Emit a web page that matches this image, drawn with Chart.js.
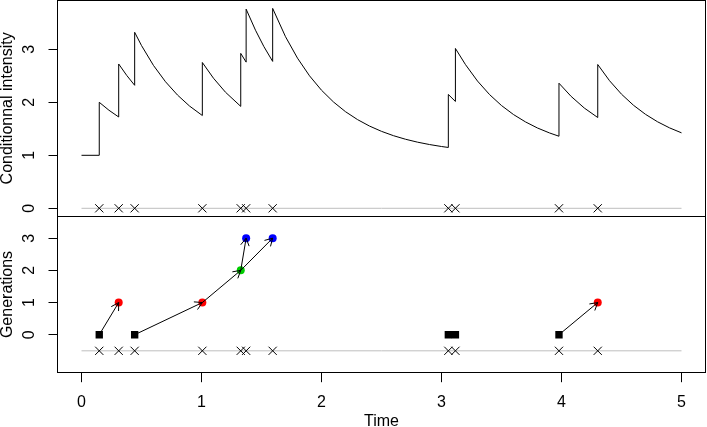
<!DOCTYPE html>
<html>
<head>
<meta charset="UTF-8">
<title>Conditionnal intensity and generations</title>
<script src="https://cdn.jsdelivr.net/npm/chart.js@4.4.0/dist/chart.umd.min.js"></script>
<style>
  body { margin: 0; background: #fff; overflow: hidden; }
  #wrap { position: relative; width: 707px; height: 427px; }
  canvas { position: absolute; left: 0; }
</style>
</head>
<body>
<div id="wrap">
  <canvas id="intensity" width="707" height="217" style="top:0"></canvas>
  <canvas id="generations" width="707" height="211" style="top:216px"></canvas>
</div>
<script>
// event times and their family tree
var eventTimes = [0.148, 0.31, 0.443, 1.007, 1.327, 1.372, 1.593, 3.057, 3.116, 3.979, 4.302];
var generation = [0, 1, 0, 1, 2, 3, 3, 0, 0, 0, 1];
var parentOf = [-1, 0, -1, 2, 3, 4, 4, -1, -1, -1, 9];

// conditional intensity (jumps give two points at the same time)
var intensityTime = [0, 0.148, 0.148, 0.229, 0.31, 0.31, 0.377, 0.443, 0.443, 0.5, 0.6, 0.7, 0.8, 0.9, 1.007,
  1.007, 1.1, 1.2, 1.327, 1.327, 1.372, 1.372, 1.45, 1.52, 1.593, 1.593, 1.7, 1.8, 1.9, 2.0, 2.1, 2.2, 2.3,
  2.4, 2.5, 2.6, 2.7, 2.8, 2.9, 3.0, 3.057, 3.057, 3.116, 3.116, 3.2, 3.3, 3.4, 3.5, 3.6, 3.7, 3.8, 3.9, 3.979,
  3.979, 4.08, 4.19, 4.302, 4.302, 4.4, 4.5, 4.6, 4.7, 4.8, 4.9, 5.0];
var intensityValue = [1, 1, 2, 1.85, 1.723, 2.723, 2.507, 2.321, 3.321, 3.071, 2.695, 2.388, 2.137, 1.93, 1.751,
  2.751, 2.454, 2.19, 1.923, 2.923, 2.758, 3.758, 3.36, 3.051, 2.772, 3.772, 3.238, 2.833, 2.5, 2.228, 2.006, 1.823, 1.674,
  1.552, 1.452, 1.37, 1.303, 1.248, 1.203, 1.166, 1.148, 2.148, 2.016, 3.016, 2.711, 2.401, 2.147, 1.939, 1.769, 1.63, 1.515, 1.422, 1.36,
  2.36, 2.112, 1.892, 1.713, 2.713, 2.408, 2.153, 1.944, 1.773, 1.633, 1.518, 1.424];

var timeRange = [0, 5];
var timeTicks = [0, 1, 2, 3, 4, 5];
var intensityTicks = [0, 1, 2, 3];
var generationTicks = [0, 1, 2, 3];
var eventRowIntensity = 0;
var eventRowGeneration = -0.5;

var genColors = ['#000000', '#ff0000', '#00cd00', '#0000ff'];

Chart.defaults.font.family = '"Liberation Sans", Arial, Helvetica, sans-serif';
Chart.defaults.font.size = 16;
Chart.defaults.color = '#000';

function pts(xs, ys) {
    return xs.map(function (x, i) { return { x: x, y: Array.isArray(ys) ? ys[i] : ys }; });
}

var boxPlugin = {
    id: 'box',
    afterDraw: function (chart) {
        var a = chart.chartArea, ctx = chart.ctx;
        var l = Math.floor(a.left) + 0.5, t = Math.floor(a.top) + 0.5;
        var r = Math.floor(a.right) + 0.5, b = Math.floor(a.bottom) + 0.5;
        ctx.save();
        ctx.strokeStyle = '#000';
        ctx.lineWidth = 1;
        ctx.strokeRect(l, t, r - l, b - t);
        ctx.restore();
    }
};

var arrowPlugin = {
    id: 'arrows',
    afterDatasetsDraw: function (chart) {
        var xs = chart.scales.x, ys = chart.scales.y, ctx = chart.ctx;
        ctx.save();
        ctx.strokeStyle = '#000';
        ctx.lineWidth = 1;
        parentOf.forEach(function (p, i) {
            if (p < 0) return;
            var x0 = xs.getPixelForValue(eventTimes[p]), y0 = ys.getPixelForValue(generation[p]);
            var x1 = xs.getPixelForValue(eventTimes[i]), y1 = ys.getPixelForValue(generation[i]);
            var ang = Math.atan2(y1 - y0, x1 - x0), len = 8.5, spread = Math.PI / 6;
            ctx.beginPath();
            ctx.moveTo(x0, y0);
            ctx.lineTo(x1, y1);
            ctx.moveTo(x1 - len * Math.cos(ang - spread), y1 - len * Math.sin(ang - spread));
            ctx.lineTo(x1, y1);
            ctx.lineTo(x1 - len * Math.cos(ang + spread), y1 - len * Math.sin(ang + spread));
            ctx.stroke();
        });
        ctx.restore();
    }
};

function yAxis(min, max, tickList, title) {
    return {
        type: 'linear',
        min: min,
        max: max,
        afterBuildTicks: function (s) { s.ticks = tickList.map(function (v) { return { value: v }; }); },
        afterFit: function (s) {
            s.width = 57.5;
            s.paddingTop = 0;
            s.paddingBottom = 0;
        },
        grid: { drawOnChartArea: false, drawTicks: true, tickLength: 9, color: '#000', lineWidth: 1 },
        border: { display: false },
        ticks: { minRotation: 90, maxRotation: 90, crossAlign: 'center', padding: 14, autoSkip: false },
        title: { display: true, text: title, padding: { top: -2, bottom: 0 } }
    };
}

new Chart(document.getElementById('intensity'), {
    type: 'scatter',
    data: {
        datasets: [{
            data: pts(intensityTime, intensityValue),
            showLine: true,
            borderColor: '#000',
            borderWidth: 1,
            pointRadius: 0,
            tension: 0,
            order: 1
        }, {
            data: pts(eventTimes, eventRowIntensity),
            pointStyle: 'crossRot',
            pointRadius: 5.8,
            borderColor: '#000',
            borderWidth: 1,
            order: 2
        }, {
            data: pts(timeRange, eventRowIntensity),
            showLine: true,
            borderColor: '#bebebe',
            borderWidth: 1,
            pointRadius: 0,
            order: 3
        }]
    },
    options: {
        responsive: false,
        animation: false,
        events: [],
        layout: { autoPadding: false, padding: { left: 0, right: 1.5, top: 0.4, bottom: 0.7 } },
        plugins: { legend: { display: false }, tooltip: { enabled: false } },
        scales: {
            x: { type: 'linear', min: -0.2, max: 5.2, display: false },
            y: yAxis(-0.151, 3.923, intensityTicks, 'Conditionnal intensity')
        }
    },
    plugins: [boxPlugin]
});

var genSets = genColors.map(function (c, g) {
    var times = eventTimes.filter(function (t, i) { return generation[i] === g; });
    return {
        data: pts(times, g),
        pointStyle: g === 0 ? 'rect' : 'circle',
        pointRadius: g === 0 ? 5.2 : 4,
        backgroundColor: c,
        borderColor: c,
        borderWidth: 0,
        order: 1
    };
});

new Chart(document.getElementById('generations'), {
    type: 'scatter',
    data: {
        datasets: genSets.concat([{
            data: pts(eventTimes, eventRowGeneration),
            pointStyle: 'crossRot',
            pointRadius: 5.8,
            borderColor: '#000',
            borderWidth: 1,
            order: 2
        }, {
            data: pts(timeRange, eventRowGeneration),
            showLine: true,
            borderColor: '#bebebe',
            borderWidth: 1,
            pointRadius: 0,
            order: 3
        }])
    },
    options: {
        responsive: false,
        animation: false,
        events: [],
        layout: { autoPadding: false, padding: { left: 0, right: 1.5, top: 0.3, bottom: 0 } },
        plugins: { legend: { display: false }, tooltip: { enabled: false } },
        scales: {
            x: {
                type: 'linear',
                min: -0.2,
                max: 5.2,
                afterBuildTicks: function (s) { s.ticks = timeTicks.map(function (v) { return { value: v }; }); },
                afterFit: function (s) {
                    s.height = 54.3;
                    s.paddingLeft = 0;
                    s.paddingRight = 0;
                },
                grid: { drawOnChartArea: false, drawTicks: true, tickLength: 9.5, color: '#000', lineWidth: 1 },
                border: { display: false },
                ticks: { padding: 11, maxRotation: 0, autoSkip: false },
                title: { display: true, text: 'Time', padding: { top: 0, bottom: -4 } }
            },
            y: yAxis(-1.18, 3.68, generationTicks, 'Generations')
        }
    },
    plugins: [boxPlugin, arrowPlugin]
});
</script>
</body>
</html>
